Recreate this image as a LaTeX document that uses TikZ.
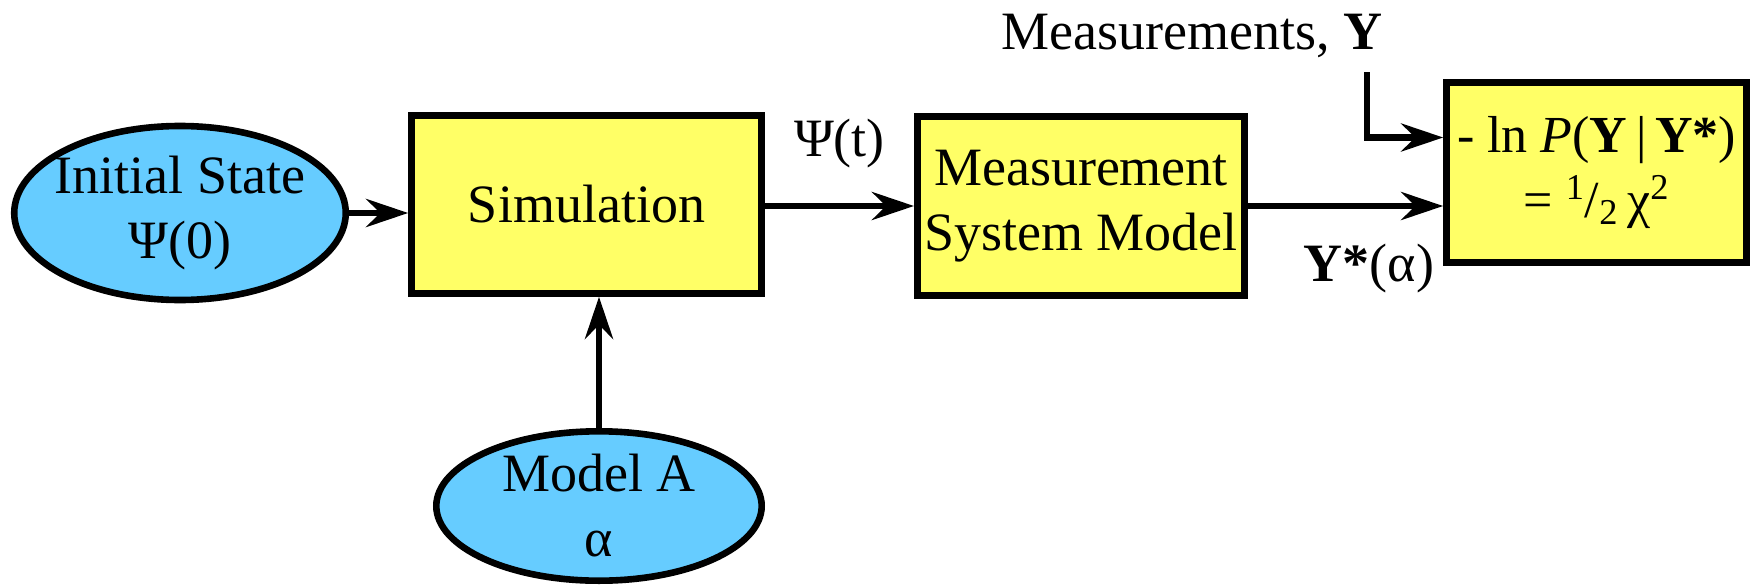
\documentclass[tikz,border=0pt]{standalone}
\usepackage{fontspec}
\IfFontExistsTF{LiberationSerif-Regular.ttf}{%
  \setmainfont{LiberationSerif}[Extension=.ttf, UprightFont=*-Regular, BoldFont=*-Bold, ItalicFont=*-Italic, BoldItalicFont=*-BoldItalic]}{%
  \setmainfont{Liberation Serif}}
\usetikzlibrary{shapes.geometric, arrows.meta, calc}
\definecolor{statecyan}{RGB}{102, 204, 255}
\definecolor{blockyellow}{RGB}{255, 255, 102}

\begin{document}
\begin{tikzpicture}[
    x=0.5pt, y=0.5pt,
    block/.style={rectangle, draw, line width=3.3pt, fill=blockyellow, align=center, inner sep=0pt, font=\fontsize{27}{32.5}\selectfont},
    state/.style={ellipse, draw, line width=3.3pt, fill=statecyan, align=center, inner sep=-4pt, font=\fontsize{27}{32.5}\selectfont},
    arrow/.style={-{Stealth[length=21pt, width=14pt, inset=7pt]}, line width=3.3pt},
    label/.style={font=\fontsize{27}{32.5}\selectfont}
]
    \useasboundingbox (0,0) rectangle (1753,586);

    % Main flow
    \node[state, minimum width=163.7pt, minimum height=87pt] (init) at (180, 373) {Initial State\\Ψ(0)};
    \node[block, minimum width=175pt, minimum height=89pt] (sim) at (586.5, 381.5) {Simulation};
    \node[block, minimum width=163.7pt, minimum height=89.7pt] (meas) at (1081, 380) {Measurement\\System Model};
    \node[block, minimum width=150pt, minimum height=90pt, font=\fontsize{26}{32.5}\selectfont] (chi) at (1596.5, 413.5) {- ln \textit{P}(\textbf{Y}\,|\,\textbf{Y*})\\= \textsuperscript{1}/\textsubscript{2}\,χ\textsuperscript{2}};
    \node[state, minimum width=162.7pt, minimum height=74.7pt] (modela) at (599, 80) {Model A\\α};

    \node[label] (ylabel) at (1192, 550) {Measurements, \textbf{Y}};
    \coordinate (ytop) at (1367, 514);

    % Arrows
    \draw[arrow] (init.east) -- (init.east -| sim.west);
    \draw[arrow] (modela.north) -- (modela.north |- sim.south);
    \draw[arrow] (sim.east |- meas.west) -- node[above=14pt, label] {Ψ(t)} (meas.west);
    \draw[arrow] (meas.east) -- node[pos=0.62, below=14pt, label] {\textbf{Y*}(α)} (meas.east -| chi.west);
    \draw[arrow] (ytop) |- ([yshift=17.5pt]chi.west);

\end{tikzpicture}
\end{document}
